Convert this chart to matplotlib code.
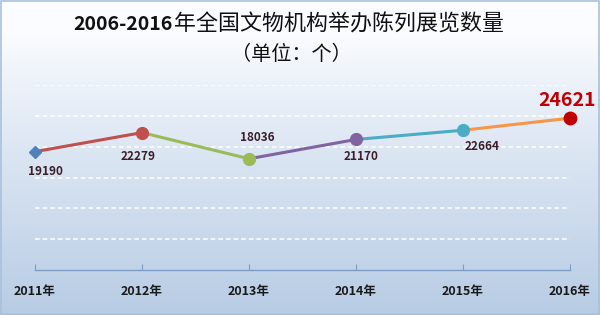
import numpy as np
import matplotlib
matplotlib.use("Agg")
import matplotlib.pyplot as plt

plt.rcParams["font.family"] = ["Noto Sans CJK SC", "DejaVu Sans"]

# ----------------------------
# Data
# ----------------------------
years = ["2011年", "2012年", "2013年", "2014年", "2015年", "2016年"]
counts = [19190, 22279, 18036, 21170, 22664, 24621]
seg_colors = ["#c0504d", "#9bbb59", "#8064a2", "#4bacc6", "#f79646"]
pt_colors = ["#4f81bd", "#c0504d", "#9bbb59", "#8064a2", "#4bacc6", "#c00000"]

title_num = "2006-2016"
title_txt = "年全国文物机构举办陈列展览数量"
subtitle = "（单位：个）"

# ----------------------------
# Figure + background gradient
# ----------------------------
fig = plt.figure(figsize=(6.0, 3.15), dpi=100)

bg = fig.add_axes([0, 0, 1, 1], zorder=0)
grad = np.linspace(0, 1, 256).reshape(-1, 1)
top = np.array([0.985, 0.99, 1.0])
bottom = np.array([0.72, 0.80, 0.895])
w = np.clip((grad - 0.1) / 0.9, 0, 1) ** 0.9
img = top * (1 - w) + bottom * w
bg.imshow(img[:, None, :].repeat(2, axis=1), aspect="auto", extent=[0, 1, 0, 1], origin="upper")
bg.set_xlim(0, 1)
bg.set_ylim(0, 1)
bg.axis("off")
bg.add_patch(plt.Rectangle((0.002, 0.003), 0.996, 0.994, fill=False, ec="#a9c0dc", lw=1.2))

# title: bold digits followed by regular CJK text
t1 = fig.text(73 / 600, 1 - 25 / 315, title_num, ha="left", va="center",
              fontsize=14, fontweight="bold", color="#111111")
renderer = fig.canvas.get_renderer()
bb = t1.get_window_extent(renderer)
fig.text(bb.x1 / fig.bbox.width + 0.002, 1 - 25 / 315, title_txt, ha="left", va="center",
         fontsize=15.8, color="#111111")
fig.text(291 / 600, 1 - 55 / 315, subtitle, ha="center", va="center", fontsize=14.5, color="#111111")

# ----------------------------
# Line chart
# ----------------------------
ax = fig.add_axes([35 / 600, 45 / 315, 535 / 600, 185 / 315], zorder=1)
ax.patch.set_alpha(0)
x = np.arange(len(years))

for i in range(len(x) - 1):
    ax.plot(x[i:i + 2], counts[i:i + 2], color=seg_colors[i], lw=2.2, solid_capstyle="round", zorder=3)

for i in range(len(x)):
    marker = "D" if i == 0 else "o"
    size = 6 if i == 0 else (9 if i == len(x) - 1 else 8.5)
    ax.plot(x[i], counts[i], marker=marker, ms=size, color=pt_colors[i], mec=pt_colors[i], clip_on=False, zorder=4)

label_color = "#3b1e28"
offsets = [(0.1, -14), (-0.04, -17), (0.08, 15), (0.05, -12), (0.18, -12), (-0.03, 13)]
for i, (dx, dy) in enumerate(offsets):
    if i == len(x) - 1:
        ax.annotate(str(counts[i]), (x[i] + dx, counts[i]), xytext=(0, dy), textcoords="offset points",
                    ha="center", va="center", fontsize=14, fontweight="bold", color="#c00000",
                    annotation_clip=False)
    else:
        ax.annotate(str(counts[i]), (x[i] + dx, counts[i]), xytext=(0, dy), textcoords="offset points",
                    ha="center", va="center", fontsize=8.5, fontweight="bold", color=label_color)

ax.set_xlim(0, 5)
ax.set_ylim(0, 30000)
ax.set_yticks(np.arange(5000, 30001, 5000))
ax.yaxis.grid(True, color="white", ls=(0, (3, 2)), lw=1.1)
ax.set_axisbelow(True)
ax.tick_params(axis="y", left=False, labelleft=False)
ax.set_xticks(x)
ax.set_xticklabels(years, fontsize=9, fontweight="bold", color="#1a1a1a")
ax.tick_params(axis="x", direction="in", length=4, color="#7f9cc4", pad=11)
for side in ["top", "left", "right"]:
    ax.spines[side].set_visible(False)
ax.spines["bottom"].set_color("#7f9cc4")
ax.spines["bottom"].set_linewidth(1.0)

fig.savefig("out.png", dpi=100)
